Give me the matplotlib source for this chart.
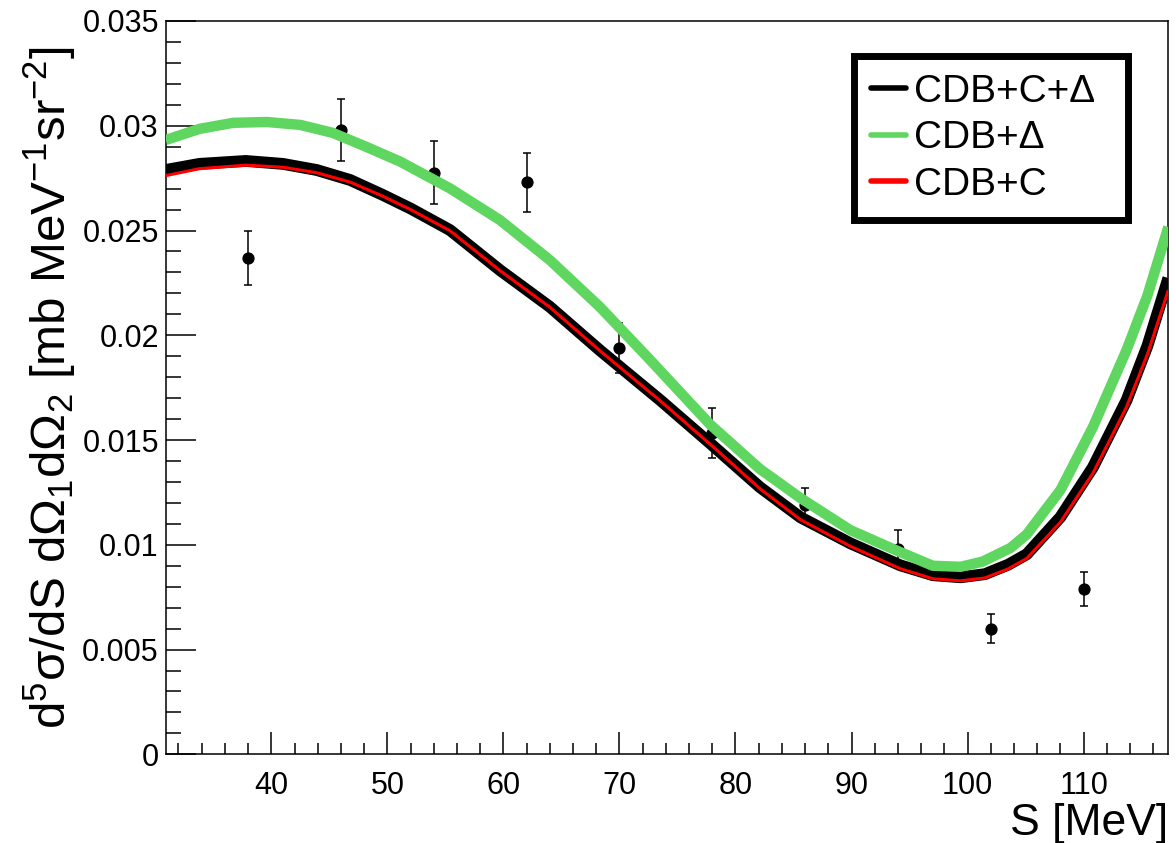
import numpy as np
import matplotlib
matplotlib.use("Agg")
import matplotlib.pyplot as plt
from matplotlib.ticker import MultipleLocator, FuncFormatter

plt.rcParams['font.family'] = ['Liberation Sans', 'DejaVu Sans']
plt.rcParams['mathtext.fontset'] = 'custom'
plt.rcParams['mathtext.rm'] = 'Liberation Sans'
plt.rcParams['mathtext.it'] = 'Liberation Sans:italic'

### data points (S in MeV, cross section, error)
s_data = [38, 46, 54, 62, 70, 78, 86, 94, 102, 110]
y_data = [0.0237, 0.0298, 0.02775, 0.0273, 0.0194, 0.01534, 0.0119, 0.0098, 0.0060, 0.0079]
y_err = [0.0013, 0.0015, 0.0015, 0.0014, 0.0012, 0.0012, 0.0008, 0.0009, 0.0007, 0.0008]

### model curves
s_blk = [30.9, 33.8, 37.8, 41.0, 43.9, 46.8, 49.6, 52.0, 55.4, 59.7, 64.0, 68.3, 73.5, 77.8,
         82.1, 85.6, 89.9, 94.2, 97.0, 99.4, 101.5, 103.5, 105.1, 108.0, 110.8, 113.7, 115.5, 117.3]
y_blk = [0.02789, 0.02818, 0.02832, 0.02818, 0.02789, 0.02741, 0.02670, 0.02605, 0.02502, 0.02311,
         0.02136, 0.01929, 0.01691, 0.01485, 0.01275, 0.01131, 0.01007, 0.00902, 0.00855, 0.00845,
         0.00860, 0.00905, 0.00955, 0.01132, 0.01370, 0.01690, 0.01950, 0.02273]
y_red = [0.02762, 0.02795, 0.02812, 0.02802, 0.02776, 0.02731, 0.02664, 0.02600, 0.02499, 0.02309,
         0.02134, 0.01927, 0.01688, 0.01481, 0.01268, 0.01120, 0.00993, 0.00886, 0.00838, 0.00828,
         0.00842, 0.00885, 0.00935, 0.01108, 0.01342, 0.01658, 0.01910, 0.02216]
s_grn = [30.9, 33.8, 36.7, 39.6, 42.5, 45.3, 48.2, 51.1, 55.4, 59.7, 64.0, 68.3, 72.6, 77.8,
         82.1, 85.6, 89.9, 94.2, 97.0, 99.4, 101.3, 103.7, 105.1, 108.0, 110.8, 113.7, 115.5, 117.3]
y_grn = [0.02932, 0.02985, 0.03014, 0.03018, 0.03004, 0.02966, 0.02899, 0.02829, 0.02701, 0.02550,
         0.02359, 0.02136, 0.01885, 0.01575, 0.01362, 0.01223, 0.01070, 0.00965, 0.00900, 0.00895,
         0.00920, 0.00985, 0.01050, 0.01261, 0.01562, 0.01930, 0.02190, 0.02517]

fig = plt.figure(figsize=(11.76, 8.43), dpi=100)
ax = fig.add_axes([0.1409, 0.1052, 0.8526, 0.8699])

ax.errorbar(s_data, y_data, yerr=y_err, fmt='o', color='black', ms=7.8,
            elinewidth=1.1, capsize=3, capthick=1.1, zorder=2)
ax.plot(s_blk, y_blk, color='black', lw=8.5, solid_capstyle='butt', label='CDB+C+Δ', zorder=3)
ax.plot(s_grn, y_grn, color='#5fd65f', lw=7.5, solid_capstyle='butt', label='CDB+Δ', zorder=4)
ax.plot(s_blk, y_red, color='#ff0000', lw=2.2, solid_capstyle='butt', label='CDB+C', zorder=5)

ax.set_xlim(30.9, 117.3)
ax.set_ylim(0, 0.035)

ax.xaxis.set_major_locator(MultipleLocator(10))
ax.xaxis.set_minor_locator(MultipleLocator(2))
ax.yaxis.set_major_locator(MultipleLocator(0.005))
ax.yaxis.set_minor_locator(MultipleLocator(0.001))
ax.yaxis.set_major_formatter(FuncFormatter(lambda v, p: '%g' % round(v, 4)))

ax.tick_params(axis='both', which='both', direction='in', width=1.1, top=False, right=False)
ax.tick_params(axis='y', which='major', length=21.6, labelsize=22, pad=5)
ax.tick_params(axis='y', which='minor', length=10.8)
ax.tick_params(axis='x', which='major', length=15.8, labelsize=22, pad=12)
ax.tick_params(axis='x', which='minor', length=7.9)
for sp in ax.spines.values():
    sp.set_linewidth(1.1)

ax.set_ylabel(r'd$^{5}$σ/dS dΩ$_{1}$dΩ$_{2}$ [mb MeV$^{-1}$sr$^{-2}$]', fontsize=35.5)
ax.yaxis.set_label_coords(-0.087, 0.5)
ax.set_xlabel('S [MeV]', fontsize=32, ha='right')
ax.xaxis.set_label_coords(1.0, -0.066)

leg = ax.legend(loc='upper left', bbox_to_anchor=(0.686, 0.728, 0.274, 0.224), mode='expand',
                fontsize=28, frameon=True, fancybox=False, framealpha=1, borderpad=0.45,
                labelspacing=0.27, handlelength=0.9, handletextpad=0.2, borderaxespad=0)
leg.get_frame().set_edgecolor('black')
leg.get_frame().set_linewidth(5)
for ln in leg.get_lines():
    ln.set_linewidth(4)
    ln.set_solid_capstyle('round')

fig.savefig('out.png', dpi=100)
